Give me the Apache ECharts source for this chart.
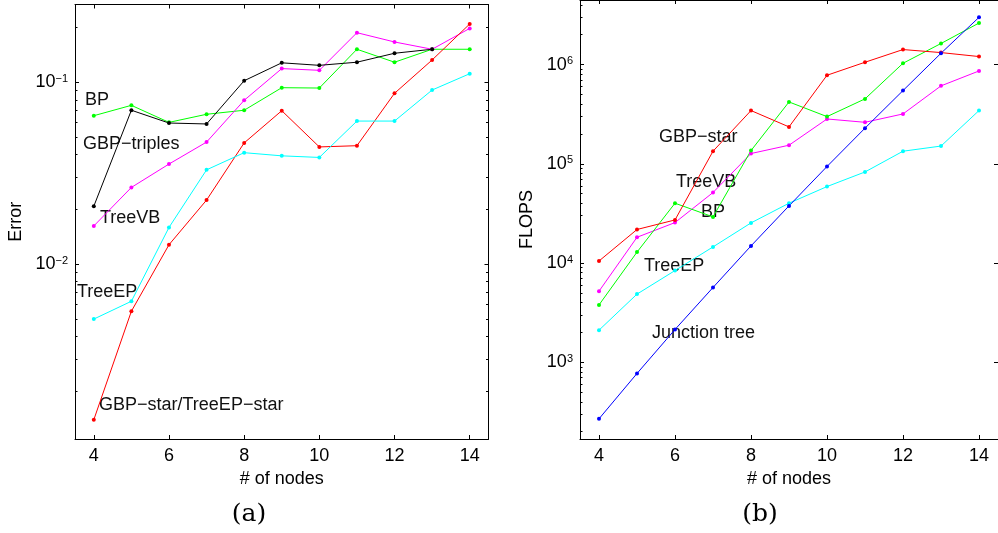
<!DOCTYPE html>
<html>
<head>
<meta charset="utf-8">
<script src="https://cdn.jsdelivr.net/npm/echarts@6/dist/echarts.min.js"></script>
<style>
  html, body { margin: 0; padding: 0; background: #fff; }
  #chart { width: 998px; height: 533px; }
</style>
</head>
<body>
<div id="chart"></div>
<script>
// x values shared by both panels
const nodes = [4, 5, 6, 7, 8, 9, 10, 11, 12, 13, 14];
const xTicks = [4, 6, 8, 10, 12, 14];

// (a) Error
const errBP = [0.0655, 0.0747, 0.0602, 0.0667, 0.0702, 0.0934, 0.093, 0.152, 0.129, 0.152, 0.152];
const errGBPtriples = [0.0208, 0.0702, 0.0597, 0.059, 0.102, 0.128, 0.124, 0.129, 0.1445, 0.152];
const errTreeVB = [0.0162, 0.0264, 0.0355, 0.0469, 0.0796, 0.119, 0.1164, 0.1875, 0.1667, 0.152, 0.198];
const errGBPstar = [0.00139, 0.0055, 0.01277, 0.0225, 0.0464, 0.0698, 0.0441, 0.0448, 0.087, 0.1327, 0.2094];
const errTreeEP = [0.00498, 0.00624, 0.0159, 0.033, 0.041, 0.0394, 0.0386, 0.0612, 0.0612, 0.0907, 0.1115];
const errMajor = [0.01, 0.1];

// (b) FLOPS
const flopsJunction = [270, 773, 2143, 5675, 14900, 37700, 94000, 228700, 547000, 1300000, 2990000];
const flopsGBPstar = [10500, 21800, 27200, 134000, 344000, 235500, 780000, 1055000, 1416000, 1320000, 1204000];
const flopsBP = [3790, 12900, 40100, 29200, 136000, 420000, 299000, 451000, 1030000, 1630000, 2620000];
const flopsTreeVB = [5210, 18200, 25600, 51400, 127000, 154000, 283000, 262000, 318000, 610000, 862000];
const flopsTreeEP = [2110, 4870, 8410, 14550, 25400, 40100, 59000, 82800, 134000, 151000, 344000];
const flopsMajor = [1e3, 1e4, 1e5, 1e6];

// log minor ticks 2..9 x 10^k
const minorMantissa = [2, 3, 4, 5, 6, 7, 8, 9];
const errDecades = [1e-3, 1e-2, 1e-1];
const flopsDecades = [1e2, 1e3, 1e4, 1e5, 1e6];

const errRange = [0.00109, 0.268];
const flopsRange = [169, 4470000];

const FONT = "'Liberation Sans', Arial, sans-serif";
const INK = '#000';

function minors(decades, range) {
  return decades.flatMap(d => minorMantissa.map(m => m * d))
    .filter(v => v > range[0] && v < range[1]);
}

function pow10Label(v) {
  const e = Math.round(Math.log10(v));
  return '{b|10}{e|' + (e < 0 ? '\u2212' + (-e) : e) + '}';
}

function xAxisFor(grid, pos) {
  const bottom = pos === 'bottom';
  return {
    type: 'value', gridIndex: grid, position: pos, min: 3.5, max: 14.5,
    axisLine: { show: true, onZero: false, lineStyle: { color: INK, width: 1 } },
    axisTick: { show: true, inside: true, length: 4, customValues: xTicks, lineStyle: { color: INK } },
    axisLabel: { show: bottom, customValues: xTicks, margin: 8, color: INK, fontSize: 18, fontFamily: FONT },
    splitLine: { show: false },
    name: bottom ? '# of nodes' : '', nameLocation: 'middle', nameGap: 29,
    nameTextStyle: { color: INK, fontSize: 18, fontFamily: FONT }
  };
}

function yAxisFor(grid, pos, range, major, minorVals, isMinor, name, gap) {
  const left = pos === 'left';
  return {
    type: 'log', logBase: 10, gridIndex: grid, position: pos, min: range[0], max: range[1],
    axisLine: { show: !isMinor, onZero: false, lineStyle: { color: INK, width: 1 } },
    axisTick: { show: true, inside: true, length: isMinor ? 2.5 : 4,
      customValues: isMinor ? minorVals : major, lineStyle: { color: INK } },
    axisLabel: {
      show: left && !isMinor, customValues: major, margin: 7, formatter: pow10Label,
      rich: {
        b: { fontSize: 18, lineHeight: 18, fontFamily: FONT, color: INK, verticalAlign: 'top' },
        e: { fontSize: 11, lineHeight: 11, fontFamily: FONT, color: INK, verticalAlign: 'top' }
      }
    },
    splitLine: { show: false }, minorTick: { show: false },
    name: left && !isMinor ? name : '', nameLocation: 'middle', nameGap: gap,
    nameTextStyle: { color: INK, fontSize: 18, fontFamily: FONT }
  };
}

function line(name, grid, values, color) {
  return {
    type: 'line', name: name, xAxisIndex: grid * 2, yAxisIndex: grid * 4,
    data: values.map((v, i) => [nodes[i], v]),
    symbol: 'circle', symbolSize: 4, showSymbol: true,
    lineStyle: { width: 1, color: color }, itemStyle: { color: color },
    emphasis: { disabled: true }
  };
}

function note(text, x, y) {
  return { type: 'text', x: x, y: y,
    style: { text: text, fill: '#111', font: '18px ' + FONT, textAlign: 'left', textVerticalAlign: 'middle' } };
}

const chart = echarts.init(document.getElementById('chart'), null, { renderer: 'canvas' });
chart.setOption({
  animation: false,
  backgroundColor: '#fff',
  grid: [
    { left: 75, top: 4.5, width: 413.5, height: 434.5 },
    { left: 580, top: -1, width: 420, height: 440 }
  ],
  xAxis: [xAxisFor(0, 'bottom'), xAxisFor(0, 'top'), xAxisFor(1, 'bottom'), xAxisFor(1, 'top')],
  yAxis: [
    yAxisFor(0, 'left', errRange, errMajor, null, false, 'Error', 50),
    yAxisFor(0, 'right', errRange, errMajor, null, false),
    yAxisFor(0, 'left', errRange, errMajor, minors(errDecades, errRange), true),
    yAxisFor(0, 'right', errRange, errMajor, minors(errDecades, errRange), true),
    yAxisFor(1, 'left', flopsRange, flopsMajor, null, false, 'FLOPS', 44),
    yAxisFor(1, 'right', flopsRange, flopsMajor, null, false),
    yAxisFor(1, 'left', flopsRange, flopsMajor, minors(flopsDecades, flopsRange), true),
    yAxisFor(1, 'right', flopsRange, flopsMajor, [], true)
  ],
  series: [
    line('BP', 0, errBP, '#00ff00'),
    line('TreeVB', 0, errTreeVB, '#ff00ff'),
    line('GBP-star/TreeEP-star', 0, errGBPstar, '#ff0000'),
    line('TreeEP', 0, errTreeEP, '#00ffff'),
    line('GBP-triples', 0, errGBPtriples, '#000000'),
    line('TreeEP', 1, flopsTreeEP, '#00ffff'),
    line('TreeVB', 1, flopsTreeVB, '#ff00ff'),
    line('BP', 1, flopsBP, '#00ff00'),
    line('GBP-star', 1, flopsGBPstar, '#ff0000'),
    line('Junction tree', 1, flopsJunction, '#0000ff')
  ],
  graphic: [
    note('BP', 85, 100),
    note('GBP\u2212triples', 83, 144),
    note('TreeVB', 100, 218),
    note('TreeEP', 77, 292),
    note('GBP\u2212star/TreeEP\u2212star', 99, 405),
    note('GBP\u2212star', 659, 137),
    note('TreeVB', 676, 182),
    note('BP', 701, 212),
    note('TreeEP', 644, 266),
    note('Junction tree', 652, 333),
    { type: 'text', x: 249, y: 514, style: { text: '(a)', fill: INK, font: "25px 'DejaVu Serif', serif", textAlign: 'center', textVerticalAlign: 'middle' } },
    { type: 'text', x: 760, y: 514, style: { text: '(b)', fill: INK, font: "25px 'DejaVu Serif', serif", textAlign: 'center', textVerticalAlign: 'middle' } }
  ]
});
</script>
</body>
</html>
